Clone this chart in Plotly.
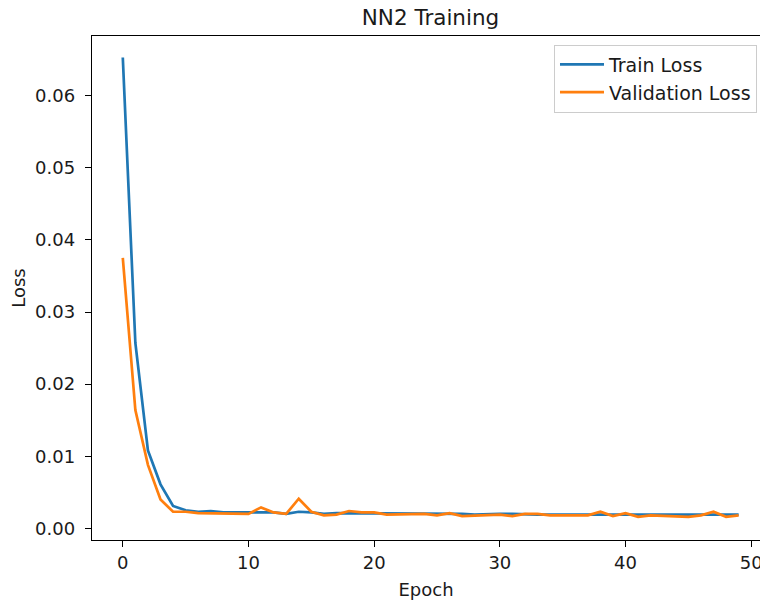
import plotly.graph_objects as go

epochs = list(range(50))
train_loss = [0.0653, 0.0257, 0.0108, 0.0061, 0.0031, 0.0025, 0.0023, 0.0024, 0.0022, 0.0022,
              0.0022, 0.0021, 0.0022, 0.0020, 0.0023, 0.0022, 0.0020, 0.0021, 0.0021, 0.0020,
              0.0021, 0.0021, 0.0020, 0.0020, 0.0020, 0.0021, 0.0020, 0.0020, 0.0019, 0.0020,
              0.0020, 0.0020, 0.0019, 0.0019, 0.0019, 0.0019, 0.0019, 0.0019, 0.0020, 0.0019,
              0.0019, 0.0019, 0.0019, 0.0019, 0.0019, 0.0020, 0.0019, 0.0019, 0.0019, 0.0019]
val_loss = [0.0375, 0.0164, 0.0088, 0.0040, 0.0023, 0.0023, 0.0021, 0.0021, 0.0021, 0.0020,
            0.0020, 0.0029, 0.0022, 0.0020, 0.0041, 0.0023, 0.0018, 0.0019, 0.0024, 0.0022,
            0.0022, 0.0019, 0.0019, 0.0019, 0.0020, 0.0018, 0.0021, 0.0017, 0.0018, 0.0018,
            0.0019, 0.0017, 0.0020, 0.0020, 0.0018, 0.0018, 0.0018, 0.0018, 0.0023, 0.0017,
            0.0021, 0.0016, 0.0018, 0.0017, 0.0017, 0.0016, 0.0018, 0.0023, 0.0016, 0.0018]
x_ticks = [0, 10, 20, 30, 40, 50]
y_ticks = [0.00, 0.01, 0.02, 0.03, 0.04, 0.05, 0.06]

font = "DejaVu Sans"
txt = "#1a1a1a"
fig = go.Figure()
fig.add_trace(go.Scatter(x=epochs, y=train_loss, mode="lines", name="Train Loss",
                         line=dict(color="#1f77b4", width=2.7)))
fig.add_trace(go.Scatter(x=epochs, y=val_loss, mode="lines", name="Validation Loss",
                         line=dict(color="#ff7f0e", width=2.7)))

fig.update_layout(
    width=760, height=602,
    margin=dict(l=92, r=0, t=36, b=62),
    paper_bgcolor="white", plot_bgcolor="white",
    font=dict(family=font, size=18, color=txt),
    title=dict(text="NN2 Training", x=(430.5 / 760), xanchor="center", y=1 - 17 / 602,
               yanchor="middle", font=dict(size=21.5, family=font, color=txt)),
    legend=dict(x=0.9955, xanchor="right", y=0.983, yanchor="top",
                bordercolor="#cccccc", borderwidth=1, bgcolor="rgba(255,255,255,0.8)",
                itemwidth=44, tracegroupgap=0,
                font=dict(size=19, family=font, color=txt)),
    showlegend=True,
)
fig.update_xaxes(
    range=[-2.45, 50.7], tickvals=x_ticks, ticktext=[str(t) for t in x_ticks],
    showgrid=False, zeroline=False, showline=True, linecolor="black", linewidth=1.4,
    mirror=True, ticks="outside", ticklen=6, tickcolor="black", tickwidth=1.4,
    automargin=False, ticklabeloverflow="allow",
    title=dict(text="Epoch", standoff=11, font=dict(size=18, family=font, color=txt)),
    tickfont=dict(size=18, family=font, color=txt),
)
fig.update_yaxes(
    range=[-0.00162, 0.06828], tickvals=y_ticks, ticktext=[f"{t:.2f}" for t in y_ticks],
    showgrid=False, zeroline=False, showline=True, linecolor="black", linewidth=1.4,
    mirror=False, ticks="outside", ticklen=6, tickcolor="black", tickwidth=1.4,
    automargin=False, ticklabelstandoff=6,
    title=dict(text="Loss", standoff=4, font=dict(size=18, family=font, color=txt)),
    tickfont=dict(size=18, family=font, color=txt),
)

fig.write_html("out.html", config={"responsive": False})
